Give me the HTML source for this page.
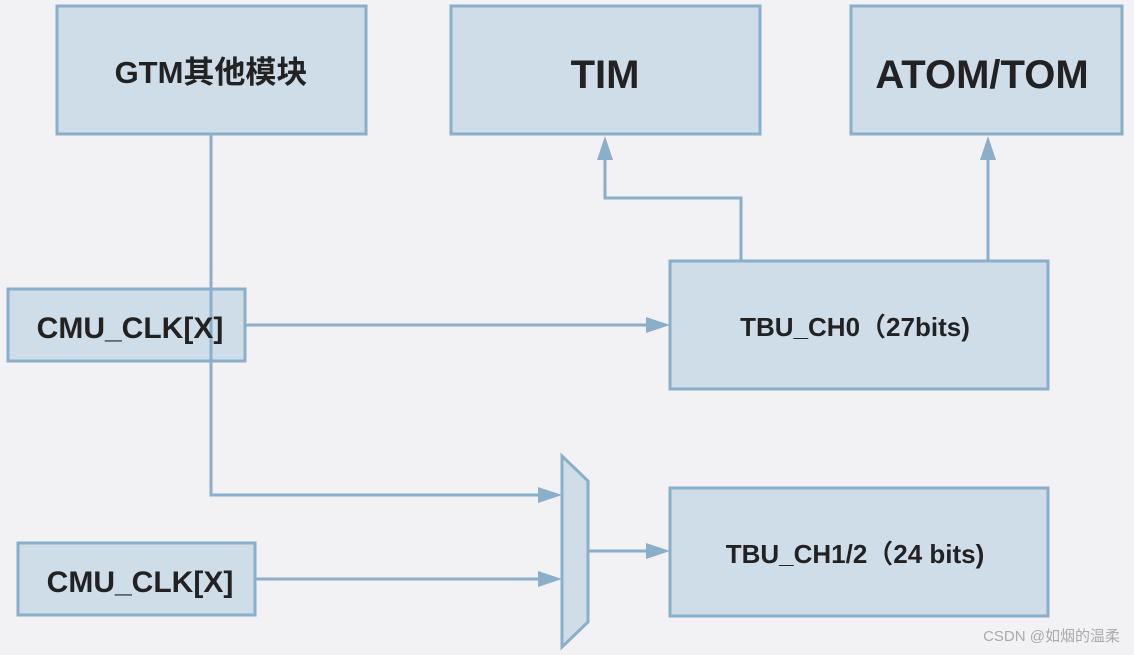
<!DOCTYPE html>
<html><head><meta charset="utf-8"><style>
html,body{margin:0;padding:0;background:#f2f2f5;}
svg{display:block}
text{font-family:"Liberation Sans","Noto Sans CJK SC",sans-serif;font-weight:bold;fill:#222;}
</style></head><body>
<svg width="1134" height="655" viewBox="0 0 1134 655" xmlns="http://www.w3.org/2000/svg">
<rect width="1134" height="655" fill="#f2f2f5"/>
<defs><marker id="a" markerWidth="10" markerHeight="10" refX="9" refY="5" orient="auto" markerUnits="userSpaceOnUse" viewBox="0 0 10 10">
</marker></defs>
<g fill="#cfdde8" stroke="#8aafca" stroke-width="3">
<rect x="57" y="6" width="309" height="128"/>
<rect x="451" y="6" width="309" height="128"/>
<rect x="851" y="6" width="271" height="128"/>
<rect x="8" y="289" width="237" height="72"/>
<rect x="670" y="261" width="378" height="128"/>
<rect x="18" y="543" width="237" height="72"/>
<rect x="670" y="488" width="378" height="128"/>
<polygon points="562,456 588,481 588,622 562,647"/>
</g>
<g stroke="#8aafca" stroke-width="3" fill="none">
<polyline points="211,134 211,495 540,495"/>
<line x1="245" y1="325" x2="648" y2="325"/>
<line x1="255" y1="579" x2="540" y2="579"/>
<line x1="589" y1="551" x2="648" y2="551"/>
<polyline points="741,261 741,198 605,198 605,158"/>
<line x1="988" y1="261" x2="988" y2="158"/>
</g>
<g fill="#8aafca">
<polygon points="670,325 646,317 646,333"/>
<polygon points="562,495 538,487 538,503"/>
<polygon points="562,579 538,571 538,587"/>
<polygon points="670,551 646,543 646,559"/>
<polygon points="605,136 597,160 613,160"/>
<polygon points="988,136 980,160 996,160"/>
</g>
<text x="211" y="83" font-size="31" text-anchor="middle">GTM其他模块</text>
<text x="605" y="88" font-size="40" text-anchor="middle">TIM</text>
<text x="982" y="88" font-size="40" text-anchor="middle">ATOM/TOM</text>
<text x="130" y="338" font-size="30" text-anchor="middle">CMU_CLK[X]</text>
<text x="140" y="592" font-size="30" text-anchor="middle">CMU_CLK[X]</text>
<text x="855" y="336" font-size="26" text-anchor="middle">TBU_CH0（27bits)</text>
<text x="855" y="563" font-size="26" text-anchor="middle">TBU_CH1/2（24 bits)</text>
<text x="1120" y="641" font-size="15" text-anchor="end" style="font-weight:normal;fill:#aaa">CSDN @如烟的温柔</text>
</svg>
</body></html>
